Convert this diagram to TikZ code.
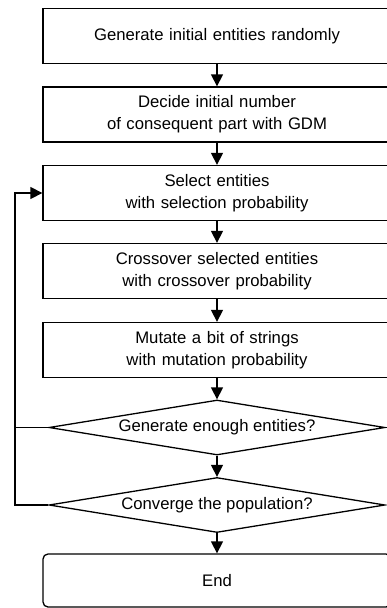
\documentclass[tikz,border=0pt]{standalone}
\usepackage{fontspec}
\setmainfont{Liberation Sans}
\usetikzlibrary{arrows.meta,shapes.geometric}
\begin{document}
\begin{tikzpicture}[x=1pt,y=-1pt,
  every node/.style={font=\fontsize{16.7}{21.8}\selectfont},
  stepbox/.style={draw, line width=1.3pt, minimum width=348pt, minimum height=55pt,
    text width=330pt, align=center, inner sep=0pt},
  decision/.style={draw, diamond, aspect=6, line width=1.3pt, minimum width=336pt,
    minimum height=55pt, inner sep=0pt},
  endbox/.style={stepbox, rounded corners=5pt, minimum height=53pt},
  arr/.style={line width=1.3pt, -{Triangle[length=12pt,width=12pt]}},
  plainline/.style={line width=1.3pt}]
\useasboundingbox (0,0) rectangle (387,608);
\clip (0,0) rectangle (387,608);
\node[stepbox] (b1) at (217,36) {Generate initial entities randomly};
\node[stepbox] (b2) at (217,114.5) {Decide initial number\\of consequent part with GDM};
\node[stepbox] (b3) at (217,193) {Select entities\\with selection probability};
\node[stepbox] (b4) at (217,271) {Crossover selected entities\\with crossover probability};
\node[stepbox] (b5) at (217,350) {Mutate a bit of strings\\with mutation probability};
\node[decision] (d1) at (217,427.5) {Generate enough entities?};
\node[decision] (d2) at (217,505) {Converge the population?};
\node[endbox] (e) at (217,580.5) {End};
\coordinate (lp) at (15,0);
\draw[arr] (b1) -- (b2);
\draw[arr] (b2) -- (b3);
\draw[arr] (b3) -- (b4);
\draw[arr] (b4) -- (b5);
\draw[arr] (b5) -- (d1);
\draw[arr] (d1) -- (d2);
\draw[arr] (d2) -- (e);
\draw[plainline] (d1.west) -- (d1.west -| lp);
\draw[arr] (d2.west) -- (d2.west -| lp) -- (b3.west -| lp) -- (b3.west);
\end{tikzpicture}
\end{document}
